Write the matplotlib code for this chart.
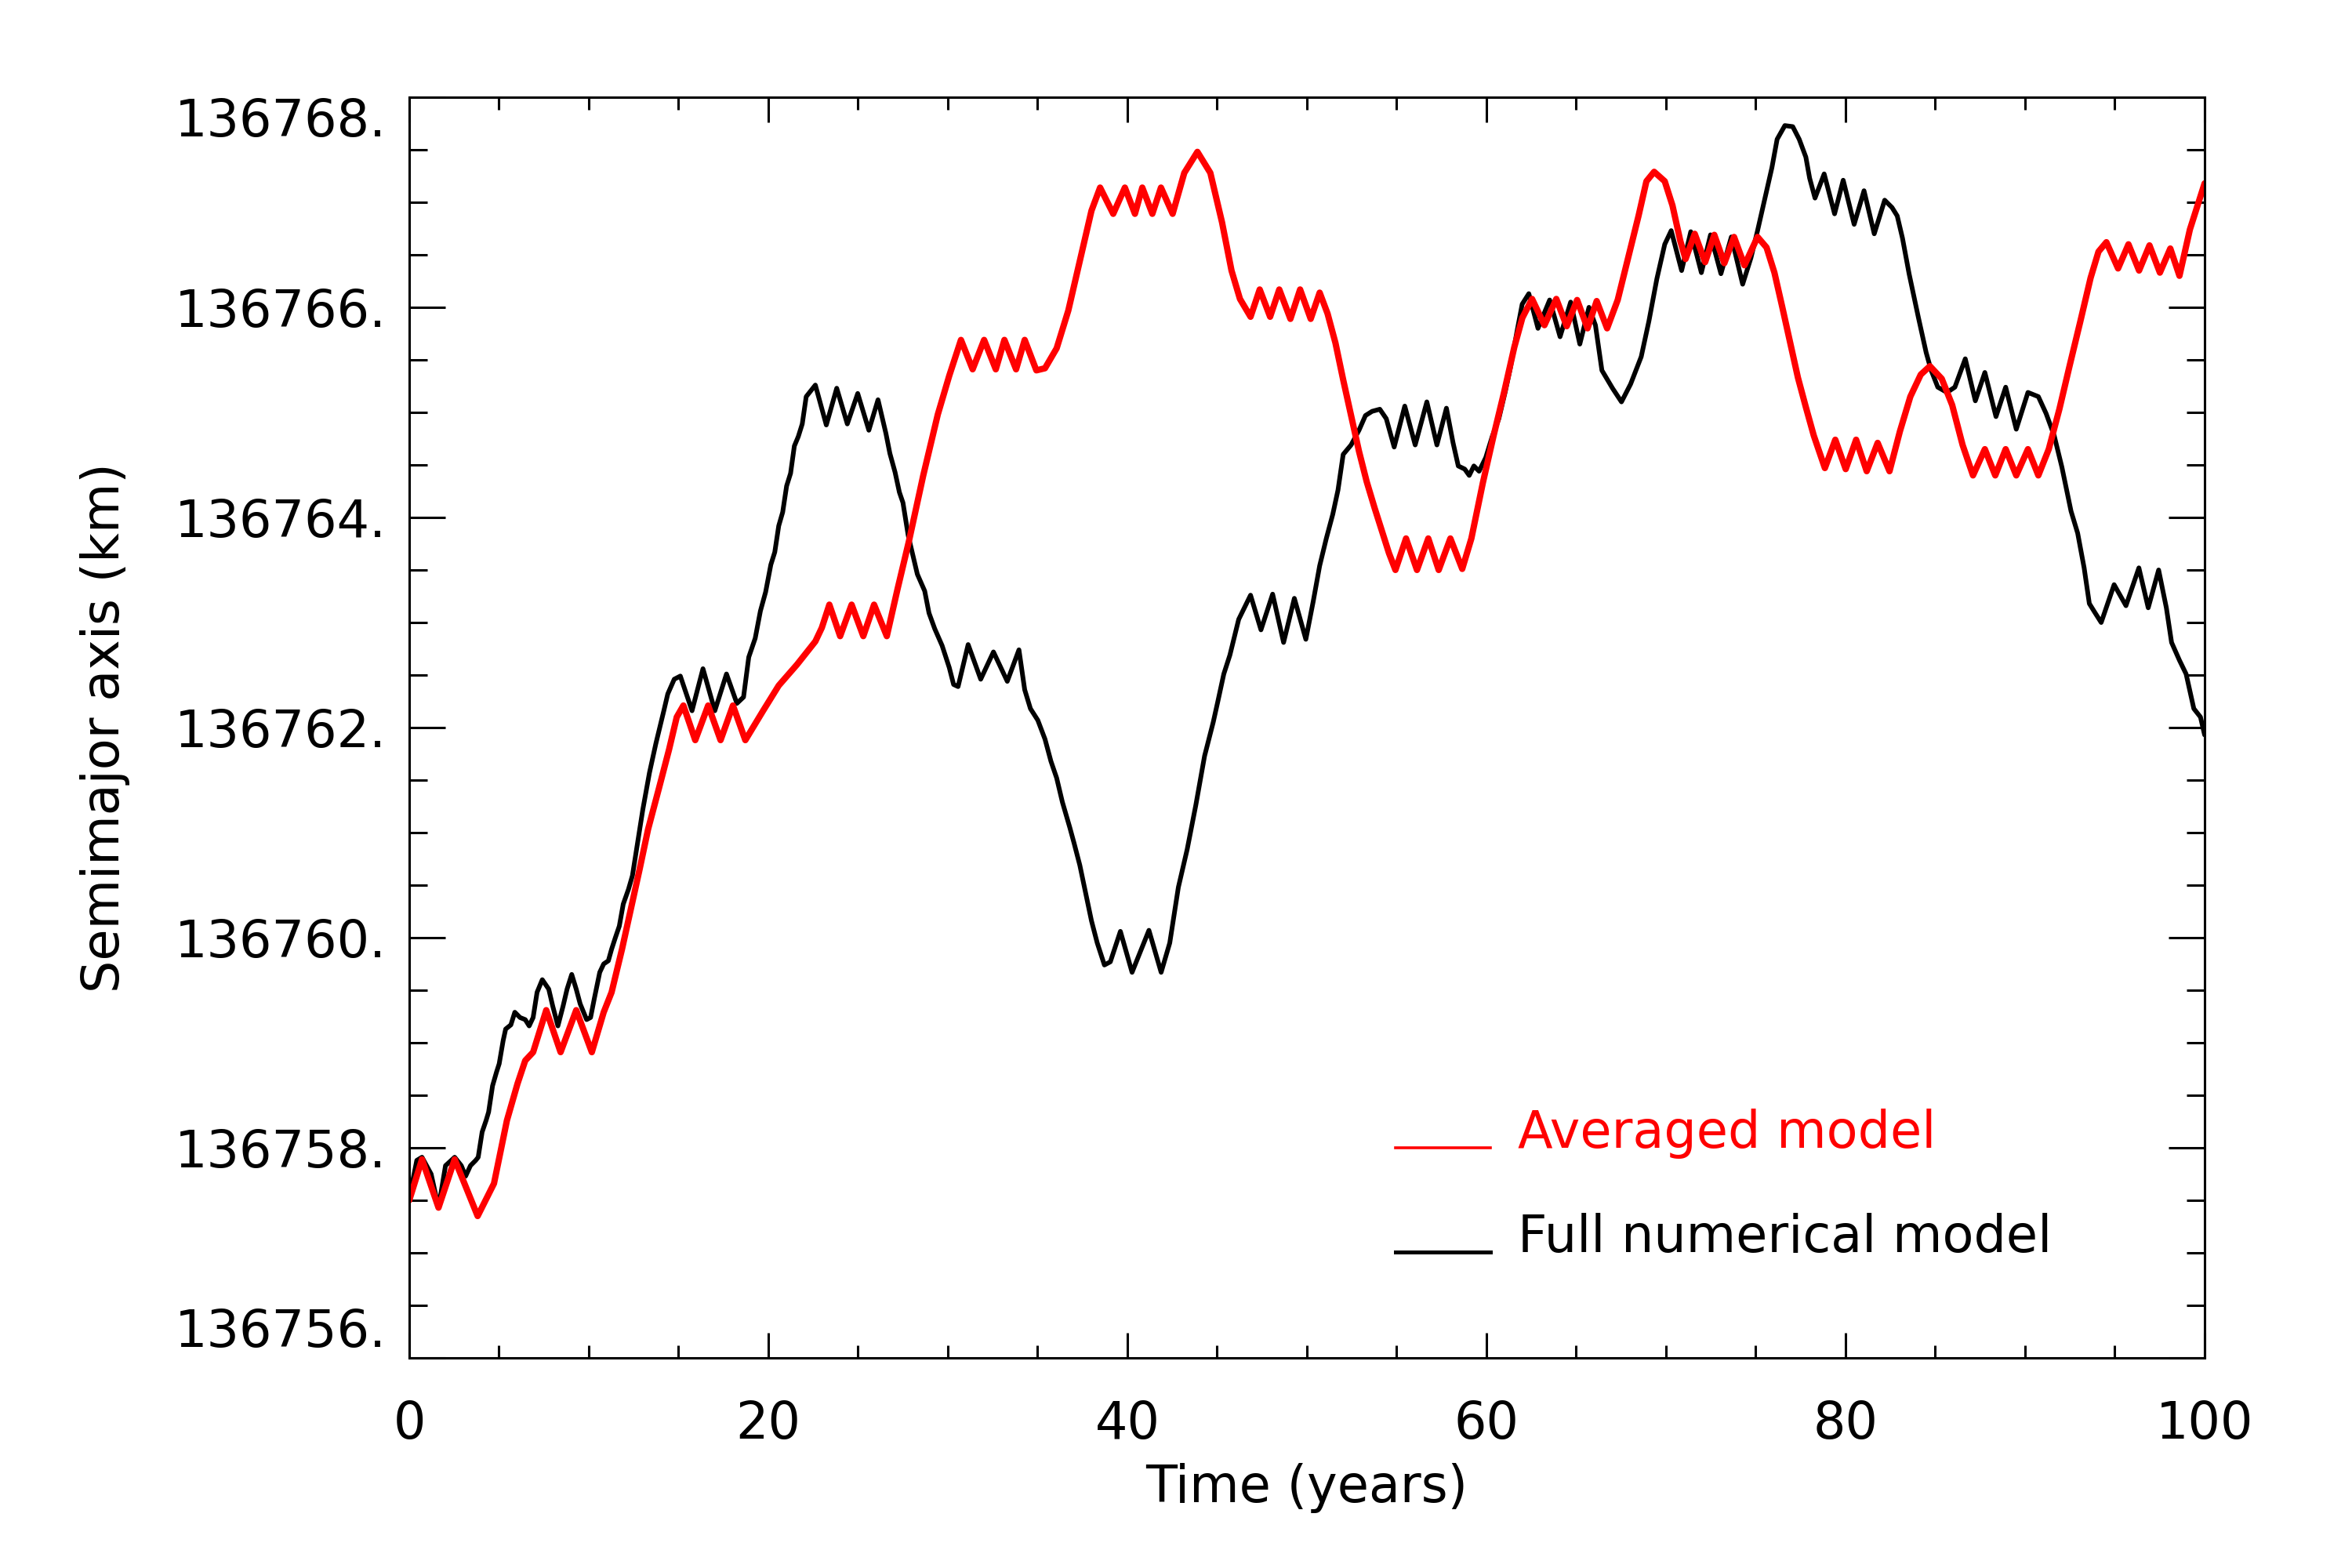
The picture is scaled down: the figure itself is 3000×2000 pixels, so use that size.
import matplotlib
matplotlib.use("Agg")
import matplotlib.pyplot as plt
from matplotlib.ticker import FixedLocator, MultipleLocator
from matplotlib.lines import Line2D
from matplotlib.legend_handler import HandlerLine2D

# ---------------- data ----------------
years_avg = [0.0, 0.71, 1.63, 2.53, 3.81, 4.72, 5.44, 6.03, 6.46, 6.90, 7.63, 8.43, 9.30, 10.17,
             10.83, 11.27, 11.85, 12.83, 13.30, 13.89, 14.47, 14.90, 15.27, 15.93, 16.65, 17.34,
             18.03, 18.72, 19.71, 20.58, 21.60, 22.62, 22.98, 23.40, 24.00, 24.64, 25.29, 25.89,
             26.60, 27.20, 27.84, 28.63, 29.44, 30.08, 30.73, 31.38, 32.02, 32.67, 33.15, 33.80,
             34.28, 34.93, 35.41, 36.06, 36.71, 37.35, 38.00, 38.48, 39.21, 39.86, 40.42, 40.83,
             41.39, 41.87, 42.52, 43.17, 43.90, 44.62, 45.27, 45.80, 46.27, 46.86, 47.37, 47.95,
             48.46, 49.08, 49.62, 50.21, 50.71, 51.15, 51.59, 52.02, 52.46, 52.90, 53.33, 53.77,
             54.20, 54.57, 54.93, 55.52, 56.13, 56.76, 57.34, 57.99, 58.65, 59.16, 59.80, 60.40,
             60.98, 61.55, 62.00, 62.54, 63.23, 63.89, 64.47, 65.05, 65.63, 66.14, 66.72, 67.31,
             67.89, 68.47, 68.91, 69.34, 69.93, 70.36, 70.80, 71.09, 71.60, 72.18, 72.69, 73.25,
             73.79, 74.37, 75.10, 75.60, 76.04, 76.48, 76.91, 77.35, 77.79, 78.23, 78.85, 79.43,
             80.01, 80.59, 81.18, 81.79, 82.45, 83.03, 83.61, 84.19, 84.70, 85.36, 85.94, 86.52,
             87.10, 87.76, 88.34, 88.92, 89.51, 90.16, 90.74, 91.32, 91.91, 92.49, 93.07, 93.65,
             94.09, 94.53, 95.18, 95.76, 96.35, 96.93, 97.51, 98.09, 98.60, 99.18, 100.0]
axis_avg = [136757.50, 136757.89, 136757.43, 136757.89, 136757.35, 136757.66, 136758.26, 136758.61,
            136758.83, 136758.91, 136759.31, 136758.91, 136759.31, 136758.91, 136759.29, 136759.48,
            136759.89, 136760.65, 136761.03, 136761.41, 136761.79, 136762.10, 136762.21, 136761.88,
            136762.21, 136761.88, 136762.21, 136761.88, 136762.16, 136762.40, 136762.60, 136762.82,
            136762.95, 136763.17, 136762.87, 136763.17, 136762.87, 136763.17, 136762.87, 136763.32,
            136763.78, 136764.40, 136764.98, 136765.35, 136765.69, 136765.41, 136765.69, 136765.41,
            136765.69, 136765.41, 136765.69, 136765.40, 136765.42, 136765.61, 136765.97, 136766.44,
            136766.92, 136767.14, 136766.89, 136767.14, 136766.89, 136767.14, 136766.89, 136767.14,
            136766.89, 136767.28, 136767.48, 136767.28, 136766.81, 136766.35, 136766.08, 136765.91,
            136766.17, 136765.91, 136766.17, 136765.89, 136766.17, 136765.89, 136766.14, 136765.94,
            136765.66, 136765.31, 136764.97, 136764.63, 136764.34, 136764.09, 136763.86, 136763.66,
            136763.50, 136763.80, 136763.50, 136763.80, 136763.50, 136763.80, 136763.51, 136763.80,
            136764.33, 136764.78, 136765.19, 136765.62, 136765.90, 136766.08, 136765.83, 136766.08,
            136765.82, 136766.07, 136765.80, 136766.06, 136765.80, 136766.07, 136766.47, 136766.87,
            136767.20, 136767.29, 136767.20, 136766.97, 136766.63, 136766.46, 136766.70, 136766.43,
            136766.69, 136766.42, 136766.67, 136766.40, 136766.67, 136766.57, 136766.33, 136766.00,
            136765.67, 136765.33, 136765.05, 136764.78, 136764.47, 136764.74, 136764.46, 136764.74,
            136764.44, 136764.71, 136764.44, 136764.82, 136765.15, 136765.36, 136765.44, 136765.32,
            136765.07, 136764.69, 136764.40, 136764.65, 136764.40, 136764.65, 136764.40, 136764.65,
            136764.40, 136764.65, 136765.03, 136765.45, 136765.86, 136766.28, 136766.53, 136766.62,
            136766.37, 136766.60, 136766.35, 136766.59, 136766.33, 136766.56, 136766.30, 136766.74,
            136767.18]

years_full = [0.0, 0.42, 0.71, 1.22, 1.63, 2.02, 2.53, 2.90, 3.14, 3.41, 3.70, 3.84, 4.06, 4.28,
              4.42, 4.64, 4.86, 5.01, 5.23, 5.37, 5.66, 5.88, 6.17, 6.46, 6.68, 6.90, 7.12, 7.41,
              7.77, 7.99, 8.28, 8.57, 8.79, 9.05, 9.30, 9.52, 9.88, 10.10, 10.32, 10.61, 10.83,
              11.09, 11.27, 11.48, 11.70, 11.92, 12.21, 12.43, 12.65, 13.01, 13.38, 13.74, 14.18,
              14.40, 14.76, 15.10, 15.75, 16.36, 17.02, 17.67, 18.25, 18.62, 18.91, 19.27, 19.56,
              19.85, 20.14, 20.36, 20.58, 20.80, 21.02, 21.24, 21.45, 21.67, 21.89, 22.11, 22.62,
              23.23, 23.81, 24.40, 24.98, 25.60, 26.11, 26.55, 26.77, 27.06, 27.30, 27.50, 27.79,
              28.30, 28.71, 28.95, 29.27, 29.68, 30.08, 30.32, 30.57, 31.13, 31.83, 32.54, 33.31,
              33.96, 34.28, 34.60, 35.01, 35.41, 35.74, 36.06, 36.38, 36.79, 37.03, 37.35, 37.68,
              38.00, 38.32, 38.72, 39.05, 39.61, 40.26, 41.20, 41.88, 42.36, 42.84, 43.33, 43.81,
              44.30, 44.78, 45.04, 45.37, 45.71, 46.20, 46.86, 47.44, 48.09, 48.70, 49.30, 49.94,
              50.35, 50.71, 51.08, 51.44, 51.73, 52.02, 52.46, 52.90, 53.26, 53.63, 54.06, 54.42,
              54.86, 55.45, 56.03, 56.68, 57.24, 57.77, 58.14, 58.43, 58.79, 59.04, 59.30, 59.59,
              59.96, 60.32, 60.69, 61.05, 61.34, 61.70, 61.99, 62.36, 62.87, 63.52, 64.10, 64.69,
              65.20, 65.71, 66.07, 66.43, 67.02, 67.52, 68.03, 68.62, 69.05, 69.49, 69.93, 70.29,
              70.87, 71.38, 71.97, 72.48, 73.06, 73.64, 74.27, 74.73, 75.10, 75.46, 75.90, 76.19,
              76.62, 77.06, 77.42, 77.79, 78.00, 78.30, 78.81, 79.39, 79.87, 80.48, 81.03, 81.60,
              82.18, 82.59, 82.88, 83.17, 83.54, 84.05, 84.49, 84.77, 85.14, 85.65, 86.09, 86.67,
              87.23, 87.76, 88.38, 88.92, 89.51, 90.16, 90.74, 91.17, 91.62, 92.05, 92.56, 92.93,
              93.29, 93.58, 93.87, 94.24, 94.96, 95.62, 96.34, 96.86, 97.44, 97.87, 98.16, 98.60,
              98.97, 99.18, 99.40, 99.77, 100.0]
axis_full = [136757.52, 136757.88, 136757.91, 136757.75, 136757.43, 136757.83, 136757.91, 136757.83,
             136757.73, 136757.83, 136757.88, 136757.91, 136758.15, 136758.26, 136758.34, 136758.59,
             136758.72, 136758.80, 136759.02, 136759.13, 136759.17, 136759.29, 136759.24, 136759.22,
             136759.16, 136759.24, 136759.48, 136759.60, 136759.51, 136759.35, 136759.16, 136759.35,
             136759.51, 136759.65, 136759.51, 136759.37, 136759.22, 136759.24, 136759.43, 136759.67,
             136759.75, 136759.78, 136759.89, 136760.00, 136760.11, 136760.32, 136760.46, 136760.59,
             136760.83, 136761.22, 136761.57, 136761.85, 136762.16, 136762.32, 136762.46, 136762.49,
             136762.16, 136762.56, 136762.16, 136762.51, 136762.23, 136762.29, 136762.67, 136762.85,
             136763.11, 136763.29, 136763.55, 136763.67, 136763.92, 136764.05, 136764.30, 136764.42,
             136764.68, 136764.77, 136764.89, 136765.15, 136765.26, 136764.88, 136765.23, 136764.89,
             136765.18, 136764.83, 136765.12, 136764.80, 136764.61, 136764.43, 136764.24, 136764.14,
             136763.83, 136763.46, 136763.30, 136763.09, 136762.94, 136762.78, 136762.57, 136762.41,
             136762.39, 136762.79, 136762.46, 136762.72, 136762.44, 136762.74, 136762.36, 136762.18,
             136762.07, 136761.89, 136761.68, 136761.52, 136761.29, 136761.05, 136760.90, 136760.69,
             136760.42, 136760.16, 136759.95, 136759.74, 136759.77, 136760.06, 136759.67, 136760.07,
             136759.67, 136759.95, 136760.48, 136760.84, 136761.26, 136761.73, 136762.05, 136762.25,
             136762.51, 136762.69, 136763.03, 136763.26, 136762.93, 136763.27, 136762.81, 136763.23,
             136762.84, 136763.20, 136763.54, 136763.80, 136764.03, 136764.26, 136764.60, 136764.69,
             136764.83, 136764.97, 136765.01, 136765.03, 136764.94, 136764.67, 136765.06, 136764.69,
             136765.10, 136764.69, 136765.04, 136764.71, 136764.49, 136764.46, 136764.40, 136764.49,
             136764.44, 136764.57, 136764.77, 136764.94, 136765.20, 136765.43, 136765.77, 136766.03,
             136766.13, 136765.80, 136766.07, 136765.72, 136766.05, 136765.65, 136766.00, 136765.83,
             136765.40, 136765.23, 136765.10, 136765.27, 136765.53, 136765.87, 136766.27, 136766.60,
             136766.73, 136766.35, 136766.72, 136766.33, 136766.69, 136766.32, 136766.67, 136766.22,
             136766.47, 136766.73, 136767.00, 136767.33, 136767.60, 136767.73, 136767.72, 136767.60,
             136767.43, 136767.23, 136767.04, 136767.27, 136766.89, 136767.21, 136766.79, 136767.11,
             136766.70, 136767.02, 136766.95, 136766.87, 136766.66, 136766.32, 136765.91, 136765.57,
             136765.40, 136765.24, 136765.19, 136765.24, 136765.51, 136765.11, 136765.38, 136764.96,
             136765.24, 136764.84, 136765.19, 136765.15, 136764.99, 136764.78, 136764.48, 136764.06,
             136763.85, 136763.52, 136763.18, 136763.10, 136763.00, 136763.36, 136763.16, 136763.52,
             136763.14, 136763.50, 136763.14, 136762.81, 136762.64, 136762.51, 136762.35, 136762.18,
             136762.10, 136761.93]

series_labels = ["Averaged model", "Full numerical model"]
series_colors = ["#ff0000", "#000000"]
x_ticks = [0, 20, 40, 60, 80, 100]
x_tick_labels = ["0", "20", "40", "60", "80", "100"]
y_ticks = [136756, 136758, 136760, 136762, 136764, 136766, 136768]
y_tick_labels = ["136756.", "136758.", "136760.", "136762.", "136764.", "136766.", "136768."]
x_label = "Time (years)"
y_label = "Semimajor axis (km)"


class BaselineLineHandler(HandlerLine2D):
    """Legend line drawn on the text baseline (IDL style)."""
    def create_artists(self, legend, orig_handle, xdescent, ydescent, width, height,
                       fontsize, trans):
        artists = super().create_artists(legend, orig_handle, xdescent, ydescent,
                                         width, height, fontsize, trans)
        for a in artists:
            if isinstance(a, Line2D):
                yd = a.get_ydata()
                a.set_ydata([0.0 for _ in yd])
        return artists


# ---------------- figure ----------------
plt.rcParams["font.family"] = ["DejaVu Sans"]
FS = 23.5
fig = plt.figure(figsize=(15, 10), dpi=200)
ax = fig.add_axes([0.174, 0.134, 0.76333, 0.804])

ax.plot(years_full, axis_full, color=series_colors[1], lw=2.15,
        solid_joinstyle="round", solid_capstyle="round")
ax.plot(years_avg, axis_avg, color=series_colors[0], lw=2.9,
        solid_joinstyle="round", solid_capstyle="round")

ax.set_xlim(0, 100)
ax.set_ylim(136756, 136768)

ax.xaxis.set_major_locator(FixedLocator(x_ticks))
ax.set_xticklabels(x_tick_labels)
ax.xaxis.set_minor_locator(MultipleLocator(5))
ax.yaxis.set_major_locator(FixedLocator(y_ticks))
ax.set_yticklabels(y_tick_labels)
ax.yaxis.set_minor_locator(MultipleLocator(0.5))

ax.tick_params(which="both", direction="in", top=True, right=True, width=1.1, color="black")
ax.tick_params(axis="x", which="major", length=11.5, pad=19, labelsize=FS)
ax.tick_params(axis="x", which="minor", length=5.8)
ax.tick_params(axis="y", which="major", length=16.6, pad=10.4, labelsize=FS)
ax.tick_params(axis="y", which="minor", length=8.3)
for sp in ax.spines.values():
    sp.set_linewidth(1.1)

ylabs = ax.get_yticklabels()
ylabs[0].set_va("bottom")
ylabs[-1].set_va("top")

ax.set_xlabel(x_label, fontsize=FS, va="center")
ax.xaxis.set_label_coords(0.5, -0.1032)
ax.set_ylabel(y_label, fontsize=FS, va="center")
ax.yaxis.set_label_coords(-0.1694, 0.5)

handles = [Line2D([], [], color=series_colors[0], lw=1.3),
           Line2D([], [], color=series_colors[1], lw=1.8)]
ax.legend(handles, series_labels, loc="upper left", bbox_to_anchor=(0.5933, 0.293),
          bbox_transform=fig.transFigure, frameon=False, fontsize=FS,
          handlelength=1.85, handletextpad=0.54, labelspacing=1.06,
          borderpad=0, borderaxespad=0, labelcolor=series_colors,
          handler_map={Line2D: BaselineLineHandler()})

fig.savefig("out.png", dpi=200)
